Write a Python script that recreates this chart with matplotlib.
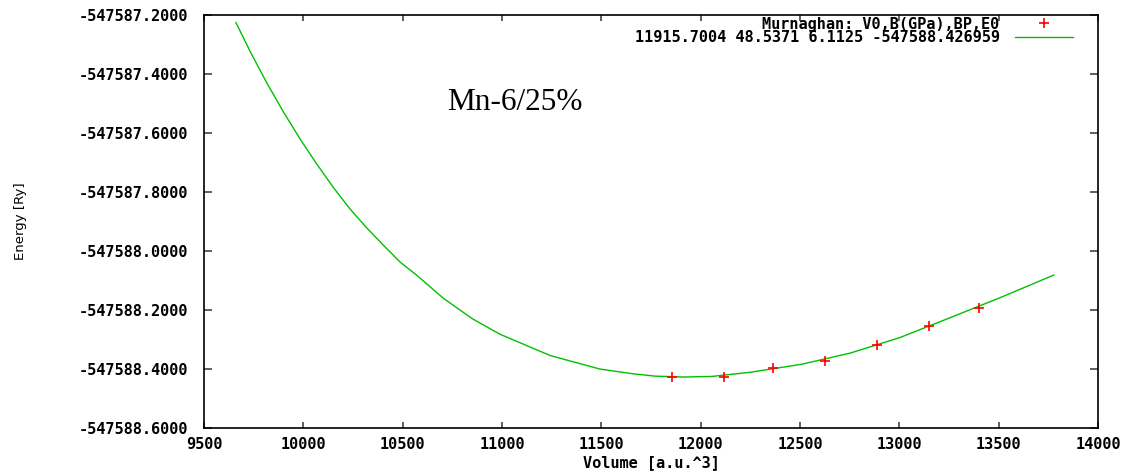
import matplotlib
matplotlib.use('Agg')
import matplotlib.pyplot as plt
from matplotlib.ticker import FormatStrFormatter

# fitted points
volume_pts = [11855, 12115, 12365, 12628, 12888, 13147, 13400]
energy_pts = [-547588.427, -547588.428, -547588.395, -547588.374,
              -547588.318, -547588.255, -547588.192]

# Murnaghan fit curve
fit_volume = [9661, 9731, 9816, 9899, 9983, 10067, 10151, 10235, 10319,
              10403, 10487, 10571, 10705, 10850, 10990, 11242, 11493,
              11659, 11770, 11915, 12057, 12248, 12506, 12752, 13004,
              13255, 13507, 13778]
fit_energy = [-547587.225, -547587.321, -547587.429, -547587.527,
              -547587.619, -547587.704, -547587.784, -547587.857,
              -547587.921, -547587.980, -547588.037, -547588.082,
              -547588.160, -547588.229, -547588.282, -547588.354,
              -547588.400, -547588.416, -547588.424, -547588.427,
              -547588.425, -547588.411, -547588.384, -547588.346,
              -547588.293, -547588.226, -547588.158, -547588.081]

x_ticks = [9500, 10000, 10500, 11000, 11500, 12000, 12500, 13000, 13500, 14000]
y_ticks = [-547588.6, -547588.4, -547588.2, -547588.0,
           -547587.8, -547587.6, -547587.4, -547587.2]

points_label = 'Murnaghan: V0,B(GPa),BP,E0'
fit_label = '11915.7004 48.5371 6.1125 -547588.426959'

mono = {'family': 'DejaVu Sans Mono', 'weight': 'bold', 'size': 11}

fig = plt.figure(figsize=(11.39, 4.73), dpi=100)
ax = fig.add_axes([0.1791, 0.0951, 0.7849, 0.8726])

ax.plot(volume_pts, energy_pts, linestyle='none', marker='+',
        color='#ff0000', markersize=7, markeredgewidth=1.2,
        label=points_label, zorder=3)
ax.plot(fit_volume, fit_energy, color='#00c000', linewidth=1.0,
        label=fit_label, zorder=2)

ax.set_xlim(9500, 14000)
ax.set_ylim(-547588.6, -547587.2)
ax.set_xticks(x_ticks)
ax.set_yticks(y_ticks)
ax.yaxis.set_major_formatter(FormatStrFormatter('%.4f'))

ax.tick_params(axis='both', direction='in', top=True, right=True,
               color='#444444', width=1.2)
ax.tick_params(axis='x', length=4, pad=6.5)
ax.tick_params(axis='y', length=6, pad=11.5)
for lab in ax.get_xticklabels() + ax.get_yticklabels():
    lab.set_fontproperties(mono)
for sp in ax.spines.values():
    sp.set_linewidth(1.2)
    sp.set_color('black')

ax.set_xlabel('Volume [a.u.^3]', fontdict=mono)
ax.xaxis.set_label_coords(0.5, -0.065)
ax.set_ylabel('Energy [Ry]', family='DejaVu Sans', fontsize=9.5)
ax.yaxis.set_label_coords(-0.198, 0.5)

ax.text(0.2715, 0.7705, 'Mn-6/25%', transform=ax.transAxes,
        family='Liberation Serif', fontsize=22.5, ha='left', va='baseline')

ax.legend(loc='upper right', bbox_to_anchor=(0.972, 0.997), frameon=False,
          markerfirst=False, prop=mono, handlelength=3.8, handletextpad=1.0,
          borderpad=0, borderaxespad=0, labelspacing=-0.1)

fig.savefig('out.png', dpi=100)
